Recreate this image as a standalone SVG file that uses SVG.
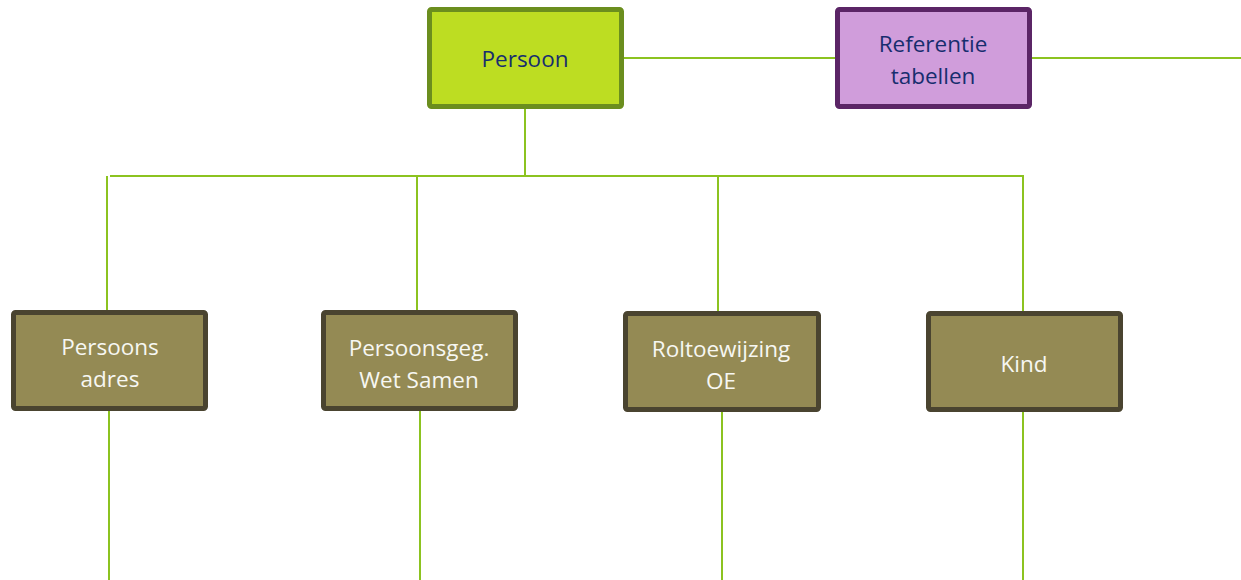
<svg xmlns="http://www.w3.org/2000/svg" width="1241" height="580" viewBox="0 0 1241 580">
<style>
.c{stroke:#8cc320;stroke-width:2;fill:none}
.top{fill:#bddd22;stroke:#6b8e1e;stroke-width:5}
.ref{fill:#d09ddb;stroke:#5b2566;stroke-width:5}
.low{fill:#948a54;stroke:#4a4430;stroke-width:5}
text{font-family:"Open Sans","Liberation Sans",sans-serif;font-size:22.5px;text-anchor:middle;dominant-baseline:central}
.dk{fill:#172d6e}
.lt{fill:#f7f7f2}
</style>
<rect width="1241" height="580" fill="#ffffff"/>
<g id="connectors">
<line class="c" x1="623" y1="58" x2="835" y2="58"/>
<line class="c" x1="1032" y1="58" x2="1241" y2="58"/>
<line class="c" x1="525" y1="108" x2="525" y2="176"/>
<line class="c" x1="110" y1="176" x2="1024" y2="176"/>
<line class="c" x1="107" y1="176" x2="107" y2="312"/>
<line class="c" x1="417" y1="176" x2="417" y2="312"/>
<line class="c" x1="718" y1="176" x2="718" y2="312"/>
<line class="c" x1="1023" y1="176" x2="1023" y2="312"/>
<line class="c" x1="109" y1="410" x2="109" y2="580"/>
<line class="c" x1="420" y1="410" x2="420" y2="580"/>
<line class="c" x1="722" y1="410" x2="722" y2="580"/>
<line class="c" x1="1023" y1="410" x2="1023" y2="580"/>
</g>
<g id="persoon">
<rect class="top" x="429.5" y="9.5" width="192" height="97" rx="2"/>
<text class="dk" x="525" y="58">Persoon</text>
</g>
<g id="referentie">
<rect class="ref" x="837.5" y="9.5" width="192" height="97" rx="2"/>
<text class="dk" x="933" y="43">Referentie</text>
<text class="dk" x="933" y="75">tabellen</text>
</g>
<g id="persoonsadres">
<rect class="low" x="13.5" y="312.5" width="192" height="96" rx="2"/>
<text class="lt" x="110" y="346">Persoons</text>
<text class="lt" x="110" y="378">adres</text>
</g>
<g id="persoonsgeg">
<rect class="low" x="323.5" y="312.5" width="192" height="96" rx="2"/>
<text class="lt" x="419" y="347">Persoonsgeg.</text>
<text class="lt" x="419" y="379">Wet Samen</text>
</g>
<g id="roltoewijzing">
<rect class="low" x="625.5" y="313.5" width="193" height="96" rx="2"/>
<text class="lt" x="721" y="348">Roltoewijzing</text>
<text class="lt" x="721" y="380">OE</text>
</g>
<g id="kind">
<rect class="low" x="928.5" y="313.5" width="192" height="96" rx="2"/>
<text class="lt" x="1024" y="363">Kind</text>
</g>
</svg>
